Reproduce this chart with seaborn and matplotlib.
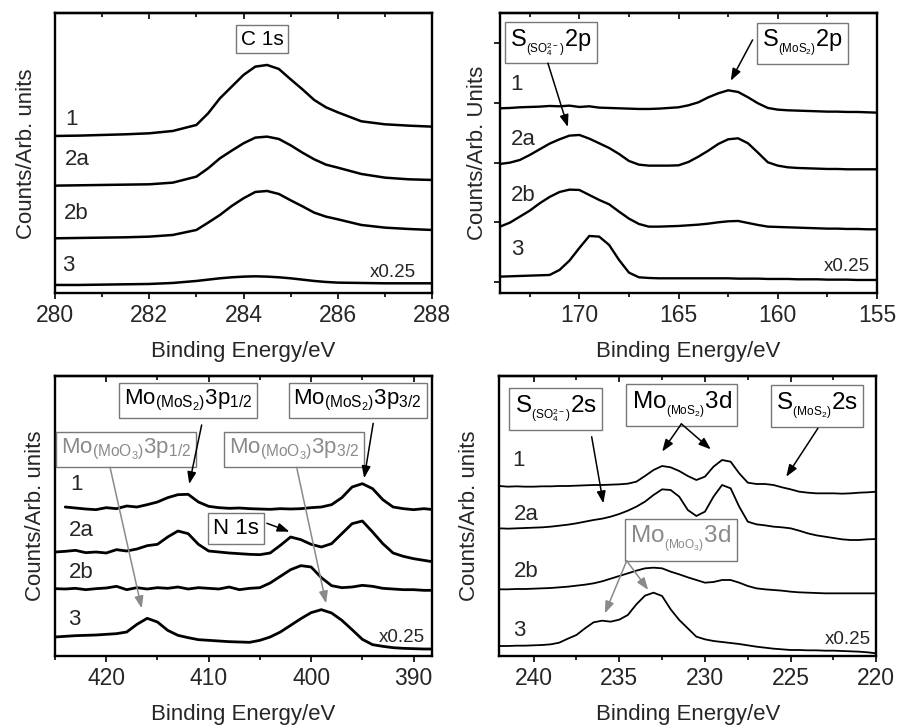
import matplotlib
matplotlib.use("Agg")
import matplotlib.pyplot as plt
from matplotlib.ticker import MultipleLocator, NullFormatter
import seaborn as sns

# ---------------- data (intensity in arbitrary units, stacked as plotted) ----------------
sample_labels = ["1", "2a", "2b", "3"]
scale_note = "x0.25"

# Panel A: C 1s
a_energy = [280, 280.5, 281, 281.5, 282, 282.5, 283, 283.25, 283.5, 283.75, 284, 284.25,
            284.5, 284.75, 285, 285.25, 285.5, 285.75, 286, 286.5, 287, 287.5, 288]
a_s1 = [472, 473, 475, 477, 480, 487, 505, 540, 585, 620, 655, 680,
        685, 673, 642, 612, 580, 558, 543, 516, 507, 503, 500]
a_s2a = [323, 324, 325, 326, 327, 332, 350, 375, 405, 428, 450, 467,
         470, 463, 444, 422, 402, 386, 377, 358, 347, 342, 340]
a_s2b = [165, 166, 167, 168, 170, 175, 190, 212, 235, 262, 285, 304,
         307, 298, 279, 261, 242, 230, 222, 205, 197, 193, 190]
a_s3 = [25, 25, 26, 27, 28, 31, 37, 41, 45, 48, 50, 51,
        50, 48, 45, 41, 37, 34, 32, 31, 30, 30, 30]

# Panel B: S 2p
b_energy = [174, 173.5, 173, 172.5, 172, 171.5, 171, 170.5, 170, 169.5, 169, 168.5, 168,
            167.5, 167, 166.5, 166, 165.5, 165, 164.5, 164, 163.5, 163, 162.5, 162,
            161.5, 161, 160.5, 160, 159.5, 159, 158.5, 158, 157.5, 157, 156.5, 156, 155.5, 155]
b_s1 = [555, 556, 558, 559, 560, 562, 561, 563, 559, 561, 557, 556, 555,
        554, 553, 553, 554, 556, 558, 564, 573, 588, 600, 609, 604,
        588, 570, 556, 551, 549, 548, 547, 546, 545, 545, 544, 544, 543, 542]
b_s2a = [388, 392, 400, 415, 432, 449, 462, 473, 475, 464, 450, 436, 418,
         397, 386, 383, 383, 383, 384, 394, 410, 428, 448, 462, 465,
         450, 422, 393, 383, 378, 376, 375, 374, 373, 373, 372, 372, 372, 372]
b_s2b = [200, 212, 230, 248, 270, 289, 304, 311, 310, 295, 280, 267, 245,
         224, 208, 200, 200, 201, 202, 204, 206, 209, 213, 216, 217,
         211, 205, 200, 199, 198, 197, 196, 195, 194, 194, 193, 193, 192, 192]
b_s3 = [50, 51, 52, 53, 54, 55, 70, 98, 136, 172, 170, 145, 100,
        62, 48, 46, 45, 45, 45, 45, 45, 45, 45, 45, 44,
        44, 44, 43, 43, 43, 42, 42, 42, 41, 41, 41, 40, 40, 40]
b_yticks = [35, 215, 392, 572, 750]

# Panel C: Mo 3p / N 1s
c_energy = [425, 424, 423, 422, 421, 420, 419, 418, 417, 416, 415, 414, 413, 412, 411,
            410, 409, 408, 407, 406, 405, 404, 403, 402, 401, 400, 399, 398, 397, 396,
            395, 394, 393, 392, 391, 390, 389, 388]
c_energy1 = c_energy[1:]
c_s1 = [447, 444, 441, 439, 445, 442, 450, 447, 454, 462, 475, 484, 485, 462,
        449, 445, 443, 444, 442, 441, 440, 442, 441, 442, 445, 447, 454, 475, 507,
        517, 502, 469, 447, 442, 439, 442, 439]
c_s2a = [312, 314, 317, 310, 312, 309, 319, 315, 321, 331, 335, 357, 375, 367, 335,
         315, 312, 309, 307, 305, 304, 309, 332, 357, 349, 335, 327, 337, 367, 397,
         405, 372, 337, 309, 299, 292, 287, 282]
c_s2b = [202, 201, 203, 199, 202, 204, 209, 199, 205, 201, 205, 203, 207, 201, 205,
         203, 201, 207, 199, 203, 205, 219, 239, 259, 271, 267, 235, 211, 205, 207,
         212, 209, 203, 201, 199, 199, 197, 197]
c_s3 = [57, 59, 61, 62, 63, 65, 67, 72, 95, 113, 102, 77, 62, 55, 49,
        47, 45, 43, 42, 41, 47, 57, 72, 92, 112, 130, 139, 129, 107, 79,
        50, 34, 29, 25, 23, 22, 21, 21]

# Panel D: Mo 3d / S 2s
d_energy = [242, 241.5, 241, 240.5, 240, 239.5, 239, 238.5, 238, 237.5, 237, 236.5, 236,
            235.5, 235, 234.5, 234, 233.5, 233, 232.5, 232, 231.5, 231, 230.5, 230,
            229.5, 229, 228.5, 228, 227.5, 227, 226.5, 226, 225.5, 225, 224.5, 224,
            223.5, 223, 222.5, 222, 221.5, 221, 220.5, 220]
d_s1 = [510, 508, 509, 508, 508, 509, 509, 510, 510, 511, 512, 513, 513,
        514, 515, 517, 523, 540, 558, 570, 566, 555, 540, 528, 538,
        568, 588, 583, 548, 520, 516, 516, 513, 506, 500, 493, 490,
        488, 488, 488, 487, 488, 490, 491, 493]
d_s2a = [383, 382, 383, 384, 385, 386, 388, 391, 394, 398, 403, 408, 412,
         418, 426, 436, 448, 463, 483, 500, 498, 478, 438, 420, 433,
         478, 513, 503, 448, 403, 395, 392, 388, 386, 383, 376, 368,
         362, 358, 354, 350, 348, 348, 350, 351]
d_s2b = [200, 200, 201, 201, 202, 203, 204, 206, 208, 211, 214, 218, 224,
         232, 240, 248, 256, 263, 265, 263, 253, 245, 236, 228, 220,
         222, 228, 228, 220, 210, 203, 200, 198, 196, 193, 191, 190,
         189, 188, 188, 188, 188, 188, 188, 188]
d_s3 = [30, 30, 31, 31, 32, 33, 35, 40, 52, 63, 83, 101, 106,
        103, 109, 123, 155, 181, 190, 180, 140, 108, 83, 58, 50,
        45, 42, 39, 36, 32, 28, 25, 22, 20, 18, 18, 17, 17, 16,
        16, 15, 14, 13, 11, 8]

x_label = "Binding Energy/eV"
y_label = "Counts/Arb. units"
y_label_b = "Counts/Arb. Units"

# ---------------- style ----------------
sns.set_theme(style="white")
plt.rcParams["font.family"] = ["Liberation Sans", "DejaVu Sans"]
plt.rcParams["mathtext.fontset"] = "custom"
plt.rcParams["mathtext.rm"] = "Liberation Sans"
plt.rcParams["mathtext.it"] = "Liberation Sans:italic"
plt.rcParams["mathtext.bf"] = "Liberation Sans:bold"
plt.rcParams["mathtext.sf"] = "Liberation Sans"

GRAY = "#8a8a8a"
EDGE = "#777777"

fig = plt.figure(figsize=(8.99, 7.25), dpi=100)
W, H = 377 / 899, 280 / 725
axA = fig.add_axes([55 / 899, 1 - 293.3 / 725, W, H])
axB = fig.add_axes([500 / 899, 1 - 293.3 / 725, W, H])
axC = fig.add_axes([55 / 899, 1 - 656 / 725, W, H])
axD = fig.add_axes([499.3 / 899, 1 - 656 / 725, W, H])


def curves(ax, xs_list, ys_list, lw):
    for xs, ys in zip(xs_list, ys_list):
        sns.lineplot(x=xs, y=ys, ax=ax, color="black", linewidth=lw,
                     estimator=None, sort=False, legend=False)


def setup(ax, xlim, major, minor, ylab, ylab_x):
    ax.set_xlim(*xlim)
    ax.set_ylim(0, 840)
    for sp in ax.spines.values():
        sp.set_visible(True)
        sp.set_color("black")
        sp.set_linewidth(1.7)
    ax.xaxis.set_major_locator(MultipleLocator(major))
    ax.xaxis.set_minor_locator(MultipleLocator(minor))
    ax.tick_params(axis="x", which="both", direction="out", bottom=True, top=False,
                   width=1.2, color="black", labelsize=16.5, pad=3.5)
    ax.tick_params(axis="x", which="major", length=4.5)
    ax.tick_params(axis="x", which="minor", length=3)
    ax.set_yticks([])
    sec = ax.secondary_xaxis("top")
    sec.xaxis.set_major_locator(MultipleLocator(major))
    sec.xaxis.set_minor_locator(MultipleLocator(minor))
    sec.xaxis.set_major_formatter(NullFormatter())
    sec.tick_params(axis="x", which="both", direction="in", width=1.2, color="black")
    sec.tick_params(axis="x", which="major", length=4.5)
    sec.tick_params(axis="x", which="minor", length=3)
    sec.spines["top"].set_linewidth(1.7)
    ax.set_xlabel(x_label, fontsize=16)
    ax.xaxis.set_label_coords(0.5, -0.172)
    ax.set_ylabel(ylab, fontsize=16)
    ax.yaxis.set_label_coords(ylab_x, 0.5)


def labels(ax, positions, note_pos):
    for lab, (fx, fy) in zip(sample_labels, positions):
        ax.text(fx, fy, lab, transform=ax.transAxes, ha="center", va="center", fontsize=16)
    ax.text(note_pos[0], note_pos[1], scale_note, transform=ax.transAxes,
            ha="center", va="center", fontsize=13.5)


def box(ax, fx, fy, s, size, color="black"):
    ax.text(fx, fy, s, transform=ax.transAxes, ha="center", va="center", fontsize=size,
            color=color, zorder=6,
            bbox=dict(boxstyle="square,pad=0.22", fc="white", ec=EDGE, lw=1.0))


def arrow(ax, tail, head, color="black"):
    ax.annotate("", xy=head, xycoords="axes fraction", xytext=tail,
                textcoords="axes fraction", zorder=7,
                arrowprops=dict(arrowstyle="-|>,head_length=0.6,head_width=0.22",
                                color=color, lw=1.1, mutation_scale=12,
                                shrinkA=0, shrinkB=0))


# ---------------- Panel A ----------------
curves(axA, [a_energy] * 4, [a_s1, a_s2a, a_s2b, a_s3], 1.8)
setup(axA, (280, 288), 2, 1, y_label, -0.048)
labels(axA, [(0.045, 0.622), (0.058, 0.479), (0.056, 0.286), (0.034, 0.101)], (0.897, 0.073))
box(axA, 0.55, 0.908, "C 1s", 15)

# ---------------- Panel B ----------------
curves(axB, [b_energy] * 4, [b_s1, b_s2a, b_s2b, b_s3], 1.7)
setup(axB, (174, 155), 5, 2.5, y_label_b, -0.032)
axB.set_yticks(b_yticks)
axB.set_yticklabels([])
axB.tick_params(axis="y", which="major", direction="out", left=True, length=4.5,
                width=1.2, color="black")
labels(axB, [(0.045, 0.744), (0.061, 0.548), (0.061, 0.351), (0.045, 0.155)], (0.919, 0.094))
box(axB, 0.135, 0.897, r"$\mathregular{S_{{}_{(SO_4^{2-})}}2p}$", 17)
box(axB, 0.802, 0.892, r"$\mathregular{S_{{}_{(MoS_2)}}2p}$", 17)
arrow(axB, (0.127, 0.822), (0.18, 0.594))
arrow(axB, (0.670, 0.905), (0.612, 0.759))

# ---------------- Panel C ----------------
curves(axC, [c_energy1, c_energy, c_energy, c_energy], [c_s1, c_s2a, c_s2b, c_s3], 2.0)
setup(axC, (425, 388.2), 10, 5, y_label, -0.023)
labels(axC, [(0.058, 0.611), (0.069, 0.447), (0.069, 0.299), (0.05, 0.132)], (0.921, 0.067))
box(axC, 0.353, 0.911, r"$\mathregular{Mo_{(MoS_2)}3p_{1/2}}$", 16)
box(axC, 0.803, 0.914, r"$\mathregular{Mo_{(MoS_2)}3p_{3/2}}$", 16)
box(axC, 0.189, 0.736, r"$\mathregular{Mo_{(MoO_3)}3p_{1/2}}$", 16, GRAY)
box(axC, 0.634, 0.739, r"$\mathregular{Mo_{(MoO_3)}3p_{3/2}}$", 16, GRAY)
box(axC, 0.48, 0.454, "N 1s", 16)
arrow(axC, (0.389, 0.825), (0.356, 0.614))
arrow(axC, (0.844, 0.831), (0.820, 0.635))
arrow(axC, (0.146, 0.674), (0.230, 0.170), GRAY)
arrow(axC, (0.641, 0.674), (0.719, 0.188), GRAY)
arrow(axC, (0.562, 0.474), (0.622, 0.444))

# ---------------- Panel D ----------------
curves(axD, [d_energy] * 4, [d_s1, d_s2a, d_s2b, d_s3], 1.3)
setup(axD, (242, 220), 5, 2.5, y_label, -0.052)
labels(axD, [(0.050, 0.698), (0.071, 0.507), (0.071, 0.301), (0.052, 0.090)], (0.925, 0.060))
box(axD, 0.150, 0.883, r"$\mathregular{S_{{}_{(SO_4^{2-})}}2s}$", 17.5)
box(axD, 0.484, 0.895, r"$\mathregular{Mo_{{}_{(MoS_2)}}3d}$", 17.5)
box(axD, 0.843, 0.892, r"$\mathregular{S_{{}_{(MoS_2)}}2s}$", 17.5)
box(axD, 0.482, 0.415, r"$\mathregular{Mo_{{}_{(MoO_3)}}3d}$", 17.5, GRAY)
arrow(axD, (0.245, 0.783), (0.276, 0.545))
arrow(axD, (0.483, 0.829), (0.432, 0.730))
arrow(axD, (0.483, 0.829), (0.561, 0.738))
arrow(axD, (0.845, 0.813), (0.761, 0.640))
arrow(axD, (0.338, 0.340), (0.280, 0.152), GRAY)
arrow(axD, (0.338, 0.340), (0.395, 0.236), GRAY)

fig.savefig("out.png", dpi=100)
